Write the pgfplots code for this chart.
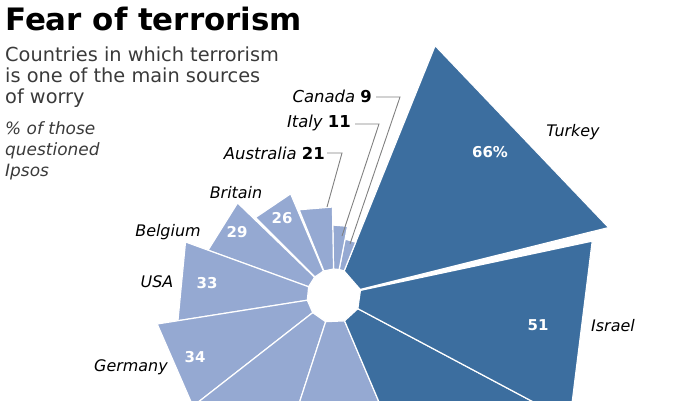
\documentclass[border=0pt]{standalone}
\usepackage{fontspec}
\setmainfont{DejaVu Sans}
\usepackage{pgfplots}
\pgfplotsset{compat=1.18}
\definecolor{light}{HTML}{95A9D2}
\definecolor{dark}{HTML}{3C6E9F}
\definecolor{txt}{HTML}{3A3A3A}
\begin{document}
\begin{tikzpicture}
\begin{axis}[name=ax, scale only axis, width=700bp, height=400bp,
  xmin=-334, xmax=366, ymin=-104, ymax=296, hide axis, clip=true]
% wedges: (angle, radius) polygons, centre at origin
\addplot[fill=dark, draw=white, line width=1.2bp, data cs=polar] coordinates {(14,27) (14,283) (68,270) (68,27)} -- cycle; % Turkey 66
\addplot[fill=light, draw=white, line width=1.2bp, data cs=polar] coordinates {(68,27) (68,58) (79,58) (79,27)} -- cycle; % Canada 9
\addplot[fill=light, draw=white, line width=1.2bp, data cs=polar] coordinates {(79,27) (79,71) (91,71) (91,27)} -- cycle; % Italy 11
\addplot[fill=light, draw=white, line width=1.2bp, data cs=polar] coordinates {(91,27) (91,89) (112,93) (112,27)} -- cycle; % Australia 21
\addplot[fill=light, draw=white, line width=1.2bp, data cs=polar] coordinates {(113,27) (113,111) (135,111) (135,27)} -- cycle; % Britain 26
\addplot[fill=light, draw=white, line width=1.2bp, data cs=polar] coordinates {(136,27) (136,134) (160,134) (160,27)} -- cycle; % Belgium 29
\addplot[fill=light, draw=white, line width=1.2bp, data cs=polar] coordinates {(160,27) (160,158) (189,158) (189,27)} -- cycle; % USA 33
\addplot[fill=light, draw=white, line width=1.2bp, data cs=polar] coordinates {(189,27) (189,179) (218,179) (218,27)} -- cycle; % Germany 34
\addplot[fill=light, draw=white, line width=1.2bp, data cs=polar] coordinates {(218,27) (218,201) (252,201) (252,27)} -- cycle;
\addplot[fill=light, draw=white, line width=1.2bp, data cs=polar] coordinates {(252,27) (252,223) (293,223) (293,27)} -- cycle;
\addplot[fill=dark, draw=white, line width=1.2bp, data cs=polar] coordinates {(293,27) (293,244) (332,244) (332,27)} -- cycle;
\addplot[fill=dark, draw=white, line width=1.2bp, data cs=polar] coordinates {(-28,27) (-28,267) (12,264) (12,27)} -- cycle; % Israel 51
% leader lines
\addplot[gray, line width=0.9bp] coordinates {(42,199) (66,199) (16,52)};
\addplot[gray, line width=0.9bp] coordinates {(21,172) (45,172) (8,60)};
\addplot[gray, line width=0.9bp] coordinates {(-7,143) (8,143) (-7,89)};
% titles
\node[anchor=base west, inner sep=0pt, font=\fontsize{31}{31}\selectfont\bfseries] at (axis cs:-329,265) {Fear of terrorism};
\node[anchor=base west, inner sep=0pt, text=txt, font=\fontsize{19.4}{19.4}\selectfont] at (axis cs:-329,234) {Countries in which terrorism};
\node[anchor=base west, inner sep=0pt, text=txt, font=\fontsize{19.4}{19.4}\selectfont] at (axis cs:-329,213) {is one of the main sources};
\node[anchor=base west, inner sep=0pt, text=txt, font=\fontsize{19.4}{19.4}\selectfont] at (axis cs:-329,192) {of worry};
\node[anchor=base west, inner sep=0pt, text=txt, font=\fontsize{17}{17}\selectfont\itshape] at (axis cs:-329,162) {\% of those};
\node[anchor=base west, inner sep=0pt, text=txt, font=\fontsize{17}{17}\selectfont\itshape] at (axis cs:-329,141) {questioned};
\node[anchor=base west, inner sep=0pt, text=txt, font=\fontsize{17}{17}\selectfont\itshape] at (axis cs:-329,120) {Ipsos};
% country labels
\node[anchor=east, inner sep=0pt, font=\fontsize{16.5}{16.5}\selectfont] at (axis cs:38,200) {\itshape Canada \bfseries\upshape 9};
\node[anchor=east, inner sep=0pt, font=\fontsize{16.5}{16.5}\selectfont] at (axis cs:17,173) {\itshape Italy \bfseries\upshape 11};
\node[anchor=east, inner sep=0pt, font=\fontsize{16.5}{16.5}\selectfont] at (axis cs:-9,143) {\itshape Australia \bfseries\upshape 21};
\node[inner sep=0pt, font=\fontsize{16}{16}\selectfont\itshape] at (axis cs:-98,103) {Britain};
\node[inner sep=0pt, font=\fontsize{16}{16}\selectfont\itshape] at (axis cs:-166,64) {Belgium};
\node[inner sep=0pt, font=\fontsize{16}{16}\selectfont\itshape] at (axis cs:-177,14) {USA};
\node[inner sep=0pt, font=\fontsize{16}{16}\selectfont\itshape] at (axis cs:-203,-71) {Germany};
\node[inner sep=0pt, font=\fontsize{16}{16}\selectfont\itshape] at (axis cs:239,164) {Turkey};
\node[inner sep=0pt, font=\fontsize{16}{16}\selectfont\itshape] at (axis cs:279,-30) {Israel};
% values inside wedges
\node[inner sep=0pt, text=white, font=\fontsize{15}{15}\selectfont\bfseries] at (axis cs:156,144) {66\%};
\node[inner sep=0pt, text=white, font=\fontsize{15}{15}\selectfont\bfseries] at (axis cs:204,-29) {51};
\node[inner sep=0pt, text=white, font=\fontsize{15}{15}\selectfont\bfseries] at (axis cs:-139,-61) {34};
\node[inner sep=0pt, text=white, font=\fontsize{15}{15}\selectfont\bfseries] at (axis cs:-127,13) {33};
\node[inner sep=0pt, text=white, font=\fontsize{15}{15}\selectfont\bfseries] at (axis cs:-97,64) {29};
\node[inner sep=0pt, text=white, font=\fontsize{15}{15}\selectfont\bfseries] at (axis cs:-52,78) {26};
\end{axis}
\pgfresetboundingbox
\path[use as bounding box] (ax.south west) rectangle (ax.north east);
\end{tikzpicture}
\end{document}
